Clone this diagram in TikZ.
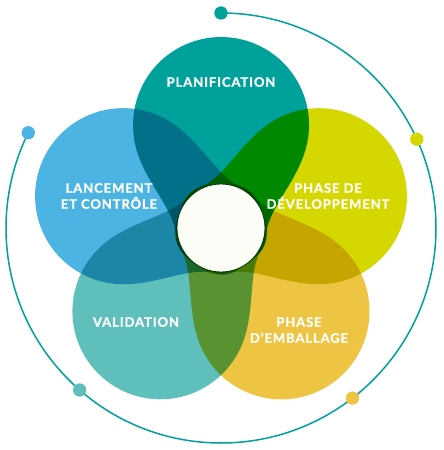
\documentclass[tikz,border=0pt]{standalone}
\usepackage{fontspec}
\setmainfont{Lato}
\newfontfamily\phasefont[LetterSpace=7, BoldFeatures={FakeBold=1.2}]{Lato}
\definecolor{planif}{RGB}{0,161,154}
\definecolor{devel}{RGB}{212,216,0}
\definecolor{emball}{RGB}{238,196,67}
\definecolor{valid}{RGB}{95,191,187}
\definecolor{lance}{RGB}{76,180,227}
\definecolor{centrefill}{RGB}{252,253,247}
\tikzset{
  petal/.style={blend mode=multiply},
  phase/.style={text=white, align=center, font=\phasefont\bfseries\fontsize{13}{16}\selectfont},
  dot/.style={circle, inner sep=0pt, minimum size=13pt},
  ring/.style={draw=planif, line width=1.5pt},
}
\newcommand\petalpath{(-86.7,87.7) .. controls (-79.9,48.5) and (-46,20) .. (-45,-8) .. controls (-45,-28) and (-25,-38) .. (0,-40) .. controls (25,-38) and (45,-28) .. (45,-8) .. controls (46,20) and (79.9,48.5) .. (86.7,87.7) arc[start angle=-10, end angle=190, radius=88] -- cycle}
\begin{document}
\begin{tikzpicture}[x=1pt, y=1pt]
\fill[white] (-221,-222) rectangle (223,228);
\useasboundingbox (-221,-222) rectangle (223,228);

\foreach \ang/\col in {90/planif, 162/lance, -126/valid, -54/emball, 18/devel}
  \fill[petal, fill=\col, rotate=\ang-90] \petalpath;

\node[circle, fill=centrefill, draw=black!80!green, line width=0.8pt, minimum size=88pt, inner sep=0pt] (centre) at (0,0) {};

\node[dot, fill=planif] (d1) at (90:215) {};
\node[dot, fill=devel] (d2) at (24.4:215) {};
\node[dot, fill=emball] (d3) at (-52.3:215) {};
\node[dot, fill=valid] (d4) at (-131.1:215) {};
\node[dot, fill=lance] (d5) at (153.7:215) {};
\draw[ring] (d1.center) arc[start angle=90, end angle=-206.3, radius=215];
\foreach \d/\col in {d1/planif, d2/devel, d3/emball, d4/valid, d5/lance}
  \fill[\col] (\d) circle[radius=6.5];

\node[phase] (planif) at (0,146) {PLANIFICATION};
\node[phase] (lance) at (-112,32) {LANCEMENT\\ET CONTRÔLE};
\node[phase] (devel) at (107,32) {PHASE DE\\DÉVELOPPEMENT};
\node[phase] (valid) at (-85,-94) {VALIDATION};
\node[phase] (emball) at (78,-102) {PHASE\\D’EMBALLAGE};
\end{tikzpicture}
\end{document}
